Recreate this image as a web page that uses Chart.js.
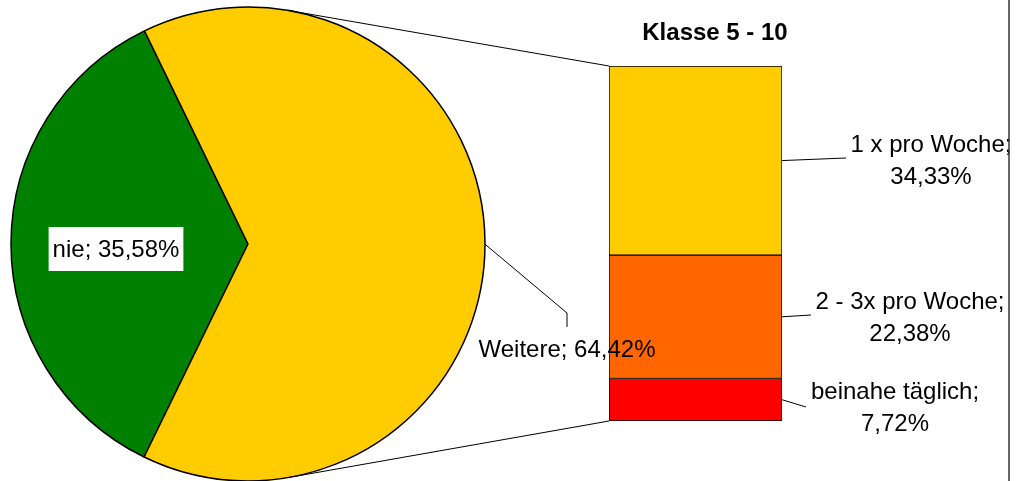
<!DOCTYPE html>
<html>
<head>
<meta charset="utf-8">
<title>Klasse 5 - 10</title>
<script src="https://cdn.jsdelivr.net/npm/chart.js@4/dist/chart.umd.min.js"></script>
<style>
  html, body { margin: 0; padding: 0; background: #fff; overflow: hidden; }
  #wrap { position: relative; width: 1020px; height: 481px; }
  #wrap canvas { position: absolute; left: 0; top: 0; }
</style>
</head>
<body>
<div id="wrap">
  <canvas id="barChart" width="1020" height="481"></canvas>
  <canvas id="pieChart" width="1020" height="481"></canvas>
</div>
<script>
/* Data */
const pieLabels = ['nie', 'Weitere'];
const pieValues = [35.58, 64.42];
const pieColors = ['#008000', '#FFCC00'];

const barTitle = 'Klasse 5 - 10';
const barLabels = ['beinahe täglich', '2 - 3x pro Woche', '1 x pro Woche'];
const barValues = [7.72, 22.38, 34.33];
const barColors = ['#FF0000', '#FF6600', '#FFCC00'];

/* Label placement (Excel style) */
const barLabelPos = [
  { x: 895, y: 399, lx: 806, ly: 407 },
  { x: 910, y: 309, lx: 811, ly: 315 },
  { x: 931, y: 152, lx: 846, ly: 158 }
];
const FONT = '"Liberation Sans", Arial, sans-serif';

function fmt(v) {
  return v.toFixed(2).replace('.', ',') + '%';
}

/* Bar of pie */
const barLabelPlugin = {
  id: 'barLabels',
  afterDraw: function (chart) {
    const ctx = chart.ctx;
    ctx.save();
    ctx.fillStyle = '#000';
    ctx.textAlign = 'center';
    ctx.textBaseline = 'alphabetic';
    ctx.font = 'bold 24px ' + FONT;
    ctx.fillText(barTitle, 715, 40);

    ctx.font = '24px ' + FONT;
    ctx.strokeStyle = '#000';
    ctx.lineWidth = 1;
    barValues.forEach(function (v, i) {
      const bar = chart.getDatasetMeta(i).data[0];
      const right = bar.x + bar.width / 2;
      const midY = (bar.y + bar.base) / 2;
      const pos = barLabelPos[i];
      ctx.beginPath();
      ctx.moveTo(right, midY);
      ctx.lineTo(pos.lx, pos.ly);
      ctx.stroke();
      ctx.fillText(barLabels[i] + ';', pos.x, pos.y);
      ctx.fillText(fmt(v), pos.x, pos.y + 31.5);
    });

    // frame edge on the right
    ctx.strokeStyle = '#333';
    ctx.lineWidth = 1.5;
    ctx.beginPath();
    ctx.moveTo(1009, 0);
    ctx.lineTo(1009, 481);
    ctx.stroke();
    ctx.restore();
  }
};

const barChart = new Chart(document.getElementById('barChart'), {
  type: 'bar',
  data: {
    labels: [''],
    datasets: barLabels.map(function (label, i) {
      return {
        label: label,
        data: [barValues[i]],
        backgroundColor: barColors[i],
        borderColor: '#000',
        borderWidth: 1,
        borderSkipped: false,
        barPercentage: 1,
        categoryPercentage: 1
      };
    })
  },
  options: {
    responsive: false,
    animation: false,
    layout: { padding: { left: 609, right: 238, top: 66, bottom: 60 } },
    scales: {
      x: { display: false, stacked: true },
      y: { display: false, stacked: true, min: 0, max: 64.43 }
    },
    plugins: { legend: { display: false }, tooltip: { enabled: false } }
  },
  plugins: [barLabelPlugin]
});

/* Pie */
const pieLabelPlugin = {
  id: 'pieLabels',
  afterDraw: function (chart) {
    const ctx = chart.ctx;
    const arcs = chart.getDatasetMeta(0).data;
    const other = arcs[1];
    const cx = other.x, cy = other.y, r = other.outerRadius;

    ctx.save();
    // connector lines to the bar
    const topBar = barChart.getDatasetMeta(2).data[0];
    const botBar = barChart.getDatasetMeta(0).data[0];
    const corners = [
      [topBar.x - topBar.width / 2, topBar.y, -1],
      [botBar.x - botBar.width / 2, botBar.base, 1]
    ];
    ctx.strokeStyle = '#000';
    ctx.lineWidth = 1;
    corners.forEach(function (c) {
      const dx = c[0] - cx, dy = c[1] - cy;
      const d = Math.hypot(dx, dy);
      const a = Math.atan2(dy, dx) + c[2] * Math.acos(r / d);
      ctx.beginPath();
      ctx.moveTo(cx + r * Math.cos(a), cy + r * Math.sin(a));
      ctx.lineTo(c[0], c[1]);
      ctx.stroke();
    });

    ctx.font = '24px ' + FONT;
    ctx.textAlign = 'center';
    ctx.textBaseline = 'alphabetic';

    // nie label with white box
    const nieText = pieLabels[0] + '; ' + fmt(pieValues[0]);
    const w = ctx.measureText(nieText).width;
    ctx.fillStyle = '#fff';
    ctx.fillRect(116 - w / 2 - 4, 227, w + 8, 44);
    ctx.fillStyle = '#000';
    ctx.fillText(nieText, 116, 257);

    // Weitere label with leader
    const mid = (other.startAngle + other.endAngle) / 2;
    ctx.beginPath();
    ctx.moveTo(cx + r * Math.cos(mid), cy + r * Math.sin(mid));
    ctx.lineTo(567, 313);
    ctx.lineTo(567, 327);
    ctx.stroke();
    ctx.fillText(pieLabels[1] + '; ' + fmt(pieValues[1]), 567, 357);
    ctx.restore();
  }
};

const pieChart = new Chart(document.getElementById('pieChart'), {
  type: 'pie',
  data: {
    labels: pieLabels,
    datasets: [{
      data: pieValues,
      backgroundColor: pieColors,
      borderColor: '#000',
      borderWidth: 1.5,
      radius: 237
    }]
  },
  options: {
    responsive: false,
    animation: false,
    rotation: 206,
    layout: { padding: { left: 0, right: 524, top: 7, bottom: 0 } },
    plugins: { legend: { display: false }, tooltip: { enabled: false } }
  },
  plugins: [pieLabelPlugin]
});
</script>
</body>
</html>
